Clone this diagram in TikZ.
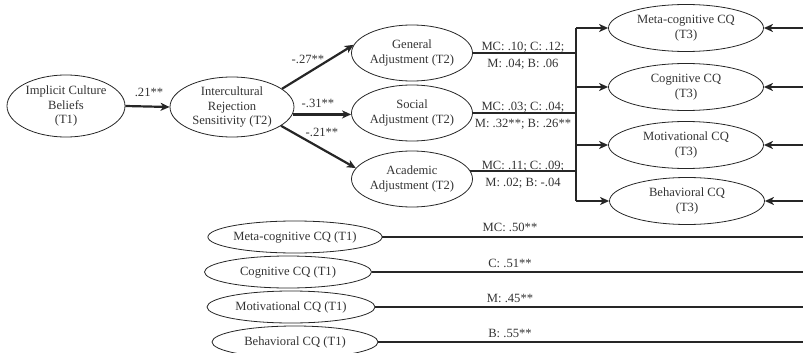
\documentclass[tikz,border=0pt]{standalone}
\usepackage{fontspec}
\setmainfont{Liberation Serif}
\usetikzlibrary{shapes.geometric,arrows.meta}
\begin{document}
\begin{tikzpicture}[x=1pt,y=-1pt,
  font=\fontsize{12.6}{14.5}\selectfont,
  lat/.style={ellipse,draw=black!85,line width=0.8pt,inner sep=0pt,align=center,text=black!80},
  t2/.style={lat,minimum width=121pt,minimum height=56pt},
  t3/.style={lat,minimum width=155pt,minimum height=47pt},
  t1/.style={lat,minimum height=32pt},
  conn/.style={line width=2.2pt,draw=black!85},
  arr/.style={conn,-{Stealth[length=9pt,width=8pt,inset=2.5pt]}},
  lab/.style={inner sep=0pt,text=black!80}]
\useasboundingbox (0,0) rectangle (803,353);

% latent variables
\node[lat,minimum width=118pt,minimum height=62pt] (icb) at (66,106) {Implicit Culture\\Beliefs\\(T1)};
\node[lat,minimum width=124pt,minimum height=60pt] (irs) at (232,107) {Intercultural\\Rejection\\Sensitivity (T2)};
\node[t2] (ga) at (412,53) {General\\Adjustment (T2)};
\node[t2] (sa) at (412,113) {Social\\Adjustment (T2)};
\node[t2] (aa) at (412,179) {Academic\\Adjustment (T2)};

\node[t3] (mc3) at (686,28) {Meta-cognitive CQ\\(T3)};
\node[t3] (cg3) at (686,87) {Cognitive CQ\\(T3)};
\node[t3] (mo3) at (686,145) {Motivational CQ\\(T3)};
\node[t3] (be3) at (687,201) {Behavioral CQ\\(T3)};

\node[t1,minimum width=166pt] (mc1) at (295,237) {Meta-cognitive CQ (T1)};
\node[t1,minimum width=167pt] (cg1) at (288,272) {Cognitive CQ (T1)};
\node[t1,minimum width=168pt] (mo1) at (291,307) {Motivational CQ (T1)};
\node[t1,minimum width=166pt] (be1) at (295,342) {Behavioral CQ (T1)};

% helper coordinates
\coordinate (bus) at (576,0);
\coordinate (redge) at (803,0);

% paths
\draw[arr] (icb.east) -- (irs.west);
\node[lab] (l21) at (149,92) {.21**};

\draw[arr] (irs.20) -- (ga.172);
\draw[arr] (irs.-7) -- (irs.-7 -| sa.west);
\draw[arr] (irs.-21) -- (aa.169);
\node[lab] (l27) at (308,59) {-.27**};
\node[lab] (l31) at (318,103) {-.31**};
\node[lab] (l21b) at (322,132) {-.21**};

\draw[conn] (ga.east) -- (ga.east -| bus);
\draw[conn] (sa.east) -- (sa.east -| bus);
\draw[conn] (aa.8) -- (aa.8 -| bus);
\node[lab] (g1) at (523,47) {MC: .10; C: .12;};
\node[lab] (g2) at (523,64) {M: .04; B: .06};
\node[lab] (s1) at (523,107) {MC: .03; C: .04;};
\node[lab] (s2) at (523,124) {M: .32**; B: .26**};
\node[lab] (a1) at (523,166) {MC: .11; C: .09;};
\node[lab] (a2) at (523,183) {M: .02; B: -.04};

\draw[conn] (mc3.west -| bus) -- (be3.west -| bus);
\draw[arr] (mc3.west -| bus) -- (mc3.west);
\draw[arr] (cg3.west -| bus) -- (cg3.west);
\draw[arr] (mo3.west -| bus) -- (mo3.west);
\draw[arr] (be3.west -| bus) -- (be3.west);

\draw[arr] (mc3.east -| redge) -- (mc3.east);
\draw[arr] (cg3.east -| redge) -- (cg3.east);
\draw[arr] (mo3.east -| redge) -- (mo3.east);
\draw[arr] (be3.east -| redge) -- (be3.east);

\draw[conn] (mc1.east) -- (mc1.east -| redge);
\draw[conn] (cg1.east) -- (cg1.east -| redge);
\draw[conn] (mo1.east) -- (mo1.east -| redge);
\draw[conn] (be1.east) -- (be1.east -| redge);
\node[lab] (k1) at (510,227) {MC: .50**};
\node[lab] (k2) at (510,263) {C: .51**};
\node[lab] (k3) at (510,298) {M: .45**};
\node[lab] (k4) at (510,333) {B: .55**};
\end{tikzpicture}
\end{document}
